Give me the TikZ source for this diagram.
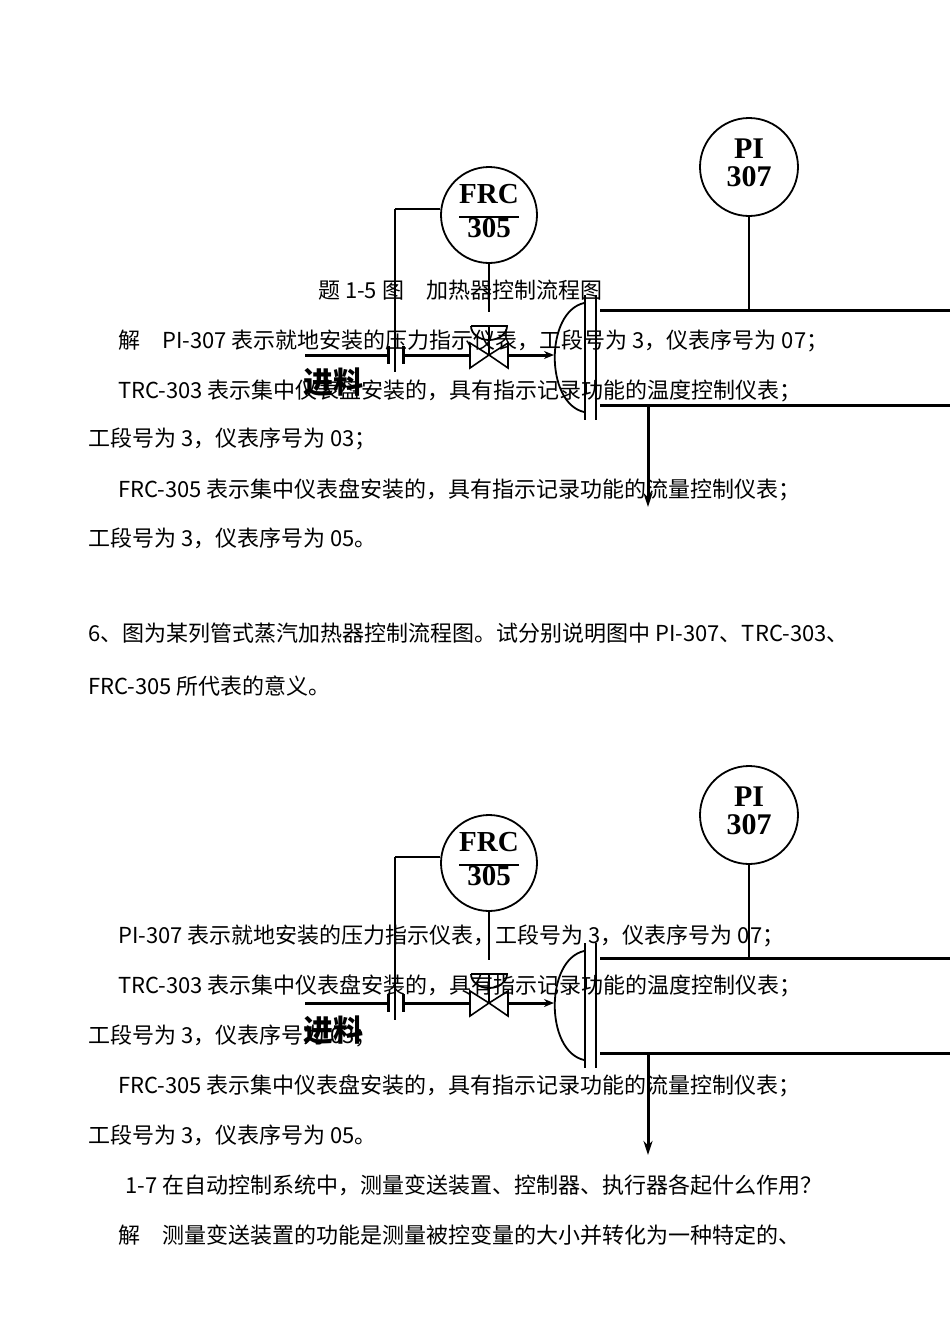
\documentclass[tikz,border=0pt]{standalone}
\usepackage{fontspec}
\setmainfont{Noto Sans CJK SC}
\newfontfamily\lbl{Liberation Serif}
\usetikzlibrary{arrows.meta}
\begin{document}
\begin{tikzpicture}[x=1pt,y=-1pt,
  txt/.style={anchor=base west,inner sep=0,font=\fontsize{22}{22}\selectfont},
  inst/.style={draw,line width=1.8pt,circle,minimum size=#1,inner sep=0},
  pipe/.style={line width=3pt},
  sig/.style={line width=2.4pt}]
\useasboundingbox (0,0) rectangle (950,1344);
\fill[white] (0,0) rectangle (950,1344);
\foreach \d/\s in {0/a,648/b}{
 \begin{scope}[yshift=-\d pt]
  \node[inst=98pt,font=\lbl\bfseries\fontsize{30}{28}\selectfont] (pi\s) at (749,167) {\begin{tabular}{@{}c@{}}PI\\[-1pt]307\end{tabular}};
  \node[inst=96pt,font=\lbl\bfseries\fontsize{29}{27}\selectfont] (frc\s) at (489,215) {\begin{tabular}{@{}c@{}}FRC\\[-8pt]\rule[4pt]{60pt}{2pt}\\[-12pt]305\end{tabular}};
  \coordinate (ot\s) at (395,209);
  \coordinate (ob\s) at (395,372);
  \coordinate (fin\s) at (305,355);
  \coordinate (fe\s) at (388,355);
  \coordinate (vs\s) at (405,355);
  \coordinate (vl\s) at (470,355);
  \coordinate (vc\s) at (489,355);
  \coordinate (vr\s) at (508,355);
  \coordinate (hd\s) at (554,355);
  \coordinate (pt\s) at (600,310);
  \coordinate (pb\s) at (600,405);
  \coordinate (ptr\s) at (950,310);
  \coordinate (pbr\s) at (950,405);
  \coordinate (out\s) at (648,405);
  \coordinate (oute\s) at (648,507);
  \draw[sig] (ot\s) -- (frc\s.west |- ot\s);
  \draw[sig] (ot\s) -- (ob\s);
  \draw[pipe] (fin\s) -- (fe\s);
  \draw[pipe] (388,346) -- (388,364);
  \draw[pipe] (403,346) -- (403,364);
  \draw[pipe] (vs\s) -- (vl\s);
  \draw[line width=1.6pt,fill=white] (470,343) -- (470,368) -- (vc\s) -- cycle;
  \draw[line width=1.6pt,fill=white] (508,343) -- (508,368) -- (vc\s) -- cycle;
  \draw[sig] (vc\s) -- (489,326);
  \draw[line width=1.8pt] (471,326) -- (507,326) arc (0:180:18 and 14);
  \draw[sig] (frc\s.south) -- (489,312);
  \draw[pipe,-{Stealth[length=10pt,width=8pt]}] (vr\s) -- (hd\s);
  \draw[line width=1.8pt] (584,303) .. controls (545,312) and (545,403) .. (584,412);
  \draw[line width=1.8pt] (585,295) -- (585,420);
  \draw[line width=1.8pt] (596,295) -- (596,420);
  \draw[pipe] (pt\s) -- (ptr\s);
  \draw[pipe] (pb\s) -- (pbr\s);
  \draw[sig] (pi\s.south) -- (pi\s.south |- pt\s);
  \draw[pipe,-{Stealth[length=14pt,width=9pt]}] (out\s) -- (oute\s);
  \node[font=\bfseries\fontsize{30}{30}\selectfont,inner sep=0] (feed\s) at (333,382) {进料};
 \end{scope}
}
\node[txt] (t1) at (318,298) {题 1-5 图　加热器控制流程图};
\node[txt] (t2) at (118,348) {解　PI-307 表示就地安装的压力指示仪表，工段号为 3，仪表序号为 07；};
\node[txt] (t3) at (118,398) {TRC-303 表示集中仪表盘安装的，具有指示记录功能的温度控制仪表；};
\node[txt] (t4) at (88,446) {工段号为 3，仪表序号为 03；};
\node[txt] (t5) at (118,497) {FRC-305 表示集中仪表盘安装的，具有指示记录功能的流量控制仪表；};
\node[txt] (t6) at (88,546) {工段号为 3，仪表序号为 05。};
\node[txt] (t7) at (88,641) {6、图为某列管式蒸汽加热器控制流程图。试分别说明图中 PI-307、TRC-303、};
\node[txt] (t8) at (88,694) {FRC-305 所代表的意义。};
\node[txt] (t9) at (118,943) {PI-307 表示就地安装的压力指示仪表，工段号为 3，仪表序号为 07；};
\node[txt] (t10) at (118,993) {TRC-303 表示集中仪表盘安装的，具有指示记录功能的温度控制仪表；};
\node[txt] (t11) at (88,1043) {工段号为 3，仪表序号为 03；};
\node[txt] (t12) at (118,1093) {FRC-305 表示集中仪表盘安装的，具有指示记录功能的流量控制仪表；};
\node[txt] (t13) at (88,1143) {工段号为 3，仪表序号为 05。};
\node[txt] (t14) at (125,1193) {1-7 在自动控制系统中，测量变送装置、控制器、执行器各起什么作用？};
\node[txt] (t15) at (118,1243) {解　测量变送装置的功能是测量被控变量的大小并转化为一种特定的、};
\end{tikzpicture}
\end{document}
